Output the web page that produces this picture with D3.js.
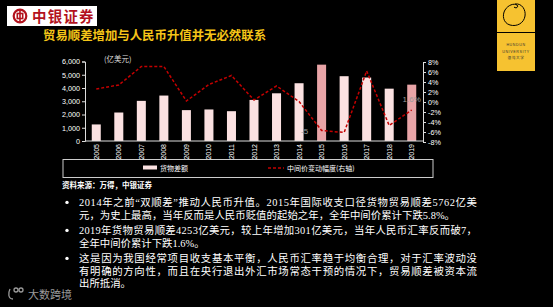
<!DOCTYPE html>
<html><head><meta charset="utf-8">
<script src="https://cdn.jsdelivr.net/npm/d3@7/dist/d3.min.js"></script>
<style>html,body{margin:0;padding:0;background:#000;overflow:hidden}svg{display:block}</style>
</head><body>
<script>
const years = ['2005','2006','2007','2008','2009','2010','2011','2012','2013','2014','2015','2016','2017','2018','2019'];
const tradeSurplus = [1250, 2150, 3030, 3430, 2330, 2380, 2250, 3100, 3600, 4360, 5762, 4890, 4790, 3950, 4253];
const fixingChange = [2.6, 3.4, 7.1, 7.1, 0.2, 3.5, 5.3, 0.4, 3.2, 0.1, -5.7, -6.1, 6.2, -4.7, -1.6];
const highlightYears = ['2015','2019'];
const leftTicks = [0, 1000, 2000, 3000, 4000, 5000, 6000];
const rightTicks = [-8, -6, -4, -2, 0, 2, 4, 6, 8];
const pointLabels = [{year:'2014', text:'-5'}, {year:'2019', text:'1.6%'}];
const seriesNames = ['货物差额', '中间价变动幅度(右轴)'];
const titleText = '贸易顺差增加与人民币升值并无必然联系';
const sourceText = '资料来源：万得，中银证券';
const bullets = [
  ['2014年之前“双顺差”推动人民币升值。2015年国际收支口径货物贸易顺差5762亿美',
   '元，为史上最高，当年反而是人民币贬值的起始之年，全年中间价累计下跌5.8%。'],
  ['2019年货物贸易顺差4253亿美元，较上年增加301亿美元，当年人民币汇率反而破7，',
   '全年中间价累计下跌1.6%。'],
  ['这是因为我国经常项目收支基本平衡，人民币汇率趋于均衡合理，对于汇率波动没',
   '有明确的方向性，而且在央行退出外汇市场常态干预的情况下，贸易顺差被资本流',
   '出所抵消。']
];

const W = 553, H = 307;
const svg = d3.select('body').append('svg').attr('width', W).attr('height', H);
svg.append('rect').attr('width', W).attr('height', H).attr('fill', '#000');

// ---- Top-left logo
const lg = svg.append('g');
lg.append('rect').attr('x', 7).attr('y', 6).attr('width', 90).attr('height', 20).attr('fill', '#fff');
lg.append('circle').attr('cx', 20).attr('cy', 16).attr('r', 6.3).attr('fill', 'none').attr('stroke', '#b3121d').attr('stroke-width', 2.2);
lg.append('rect').attr('x', 17.3).attr('y', 13.5).attr('width', 5.4).attr('height', 5).attr('fill', 'none').attr('stroke', '#b3121d').attr('stroke-width', 1.6);
lg.append('line').attr('x1', 20).attr('x2', 20).attr('y1', 9).attr('y2', 23).attr('stroke', '#b3121d').attr('stroke-width', 1.6);
lg.append('text').attr('x', 32).attr('y', 21.5).text('中银证券')
  .attr('font-family', '"Noto Sans CJK SC"').attr('font-size', 14.5).attr('font-weight', 'bold')
  .attr('letter-spacing', 1.2).attr('fill', '#b3121d');

// ---- Top-right logo
const rg = svg.append('g');
rg.append('rect').attr('x', 497).attr('y', 0).attr('width', 38).attr('height', 71).attr('fill', '#f6c230');
rg.append('line').attr('x1', 497).attr('x2', 535).attr('y1', 32.5).attr('y2', 32.5).attr('stroke', '#000').attr('stroke-width', 1);
rg.append('path').attr('d', 'M515,4 C522,3 526,10 525,16 C524,23 517,27 510,25 C503,23 502,15 505,10 C508,5 514,3 517,5 C519,7 516,9 514,7')
  .attr('fill', 'none').attr('stroke', '#000').attr('stroke-width', 1);
[['HUNDUN', 45.5], ['UNIVERSITY', 52.5], ['混沌大学', 59]].forEach(([t, y]) => {
  rg.append('text').attr('x', 516).attr('y', y).attr('text-anchor', 'middle').text(t)
    .attr('font-family', '"Liberation Sans","Noto Sans CJK SC"').attr('font-size', 3.6)
    .attr('letter-spacing', 0.6).attr('fill', '#333');
});

// ---- Title
svg.append('text').attr('x', 43).attr('y', 40).text(titleText)
  .attr('font-family', '"Noto Sans CJK SC"').attr('font-size', 12.4).attr('font-weight', 'bold')
  .attr('fill', '#f5c518');

// ---- Chart
const plotL = 85, plotR = 423, plotT = 61.5, plotB = 141;
const x = d3.scaleBand().domain(years).range([plotL, plotR]).paddingInner(0.6).paddingOuter(0.3);
const yL = d3.scaleLinear().domain([0, 6000]).range([plotB, plotT]);
const yR = d3.scaleLinear().domain([-8, 8]).range([142, 62]);

const axFont = '"Liberation Sans", Arial, sans-serif';

svg.selectAll('rect.bar').data(years).enter().append('rect')
  .attr('class', 'bar')
  .attr('x', d => x(d))
  .attr('width', x.bandwidth())
  .attr('y', (d, i) => yL(tradeSurplus[i]))
  .attr('height', (d, i) => yL(0) - yL(tradeSurplus[i]))
  .attr('fill', d => highlightYears.includes(d) ? '#e8a4a7' : '#fbe1e1');

// point labels (grey)
pointLabels.forEach(p => {
  const i = years.indexOf(p.year);
  svg.append('text')
    .attr('x', x(p.year) + x.bandwidth() / 2 + (p.year === '2014' ? 2 : 0))
    .attr('y', p.year === '2014' ? 134 : 102)
    .attr('text-anchor', p.year === '2014' ? 'start' : 'middle')
    .attr('font-family', axFont).attr('font-size', 8).attr('fill', '#9a9a9a').text(p.text);
});

const line = d3.line().x((d, i) => x(years[i]) + x.bandwidth() / 2).y(d => yR(d));
svg.append('path').datum(fixingChange).attr('d', line)
  .attr('fill', 'none').attr('stroke', '#c40000').attr('stroke-width', 1.5).attr('stroke-dasharray', '3,2');

// left axis
const gL = svg.append('g').attr('transform', `translate(${plotL},0)`)
  .call(d3.axisLeft(yL).tickValues(leftTicks).tickFormat(d3.format(',')).tickSize(3).tickPadding(2));
gL.selectAll('text').attr('font-family', axFont).attr('font-size', 7.2).attr('fill', '#fff');
gL.selectAll('line,path').attr('stroke', '#ddd');

// right axis
const gR = svg.append('g').attr('transform', `translate(${plotR},0)`)
  .call(d3.axisRight(yR).tickValues(rightTicks).tickFormat(d => d + '%').tickSize(3).tickPadding(2));
gR.selectAll('text').attr('font-family', axFont).attr('font-size', 7.2).attr('fill', '#fff');
gR.selectAll('line,path').attr('stroke', '#ddd');

// baseline
svg.append('line').attr('x1', plotL).attr('x2', plotR).attr('y1', plotB).attr('y2', plotB).attr('stroke', '#ddd').attr('stroke-width', 1);

// x labels (rotated)
svg.selectAll('text.yr').data(years).enter().append('text')
  .attr('class', 'yr')
  .attr('transform', d => `translate(${x(d) + x.bandwidth() / 2 + 2.5},${plotB + 3}) rotate(-90)`)
  .attr('text-anchor', 'end')
  .attr('font-family', axFont).attr('font-size', 7).attr('fill', '#fff').text(d => d);

// unit label
svg.append('text').attr('x', 104).attr('y', 62).text('(亿美元)')
  .attr('font-family', '"Noto Sans CJK SC"').attr('font-size', 7.5).attr('fill', '#ddd');

// legend
svg.append('rect').attr('x', 63).attr('y', 159.5).attr('width', 370).attr('height', 18)
  .attr('fill', 'none').attr('stroke', '#ccc').attr('stroke-width', 1);
svg.append('rect').attr('x', 143).attr('y', 165.5).attr('width', 14).attr('height', 4).attr('fill', '#fbe1e1');
svg.append('text').attr('x', 160).attr('y', 170.5).text(seriesNames[0])
  .attr('font-family', '"Noto Sans CJK SC"').attr('font-size', 7).attr('fill', '#fff');
svg.append('line').attr('x1', 268).attr('x2', 284).attr('y1', 168).attr('y2', 168)
  .attr('stroke', '#c40000').attr('stroke-width', 1.5).attr('stroke-dasharray', '3,2');
svg.append('text').attr('x', 287).attr('y', 170.5).text(seriesNames[1])
  .attr('font-family', '"Noto Sans CJK SC"').attr('font-size', 7).attr('fill', '#fff');

// source
svg.append('text').attr('x', 62).attr('y', 188).text(sourceText)
  .attr('font-family', '"Noto Sans CJK SC"').attr('font-size', 7.5).attr('font-weight', 'bold').attr('fill', '#fff');

// bullets
const lineYs = [[206, 218.5], [234, 246.5], [262, 275, 287]];
const fullLen = 398;
bullets.forEach((b, bi) => {
  svg.append('circle').attr('cx', 67).attr('cy', lineYs[bi][0] - 3.6).attr('r', 1.7).attr('fill', '#fff');
  b.forEach((t, li) => {
    const txt = svg.append('text').attr('x', 79).attr('y', lineYs[bi][li]).text(t)
      .attr('font-family', '"Liberation Serif","Noto Sans CJK SC"').attr('font-size', 10.4).attr('fill', '#fff');
    const full = (bi === 0 && li === 0) || (bi === 1 && li === 0) || (bi === 2 && li < 2);
    if (full) txt.attr('textLength', fullLen).attr('lengthAdjust', 'spacing');
    if (bi === 0 && li === 1) txt.attr('textLength', 376).attr('lengthAdjust', 'spacing');
  });
});

// watermark
const wm = svg.append('g').attr('fill', 'none').attr('stroke', '#9a9a9a').attr('stroke-width', 1.3);
wm.append('path').attr('d', 'M10,289 C8,293 8,299 13,299');
wm.append('circle').attr('cx', 16).attr('cy', 290).attr('r', 2);
wm.append('circle').attr('cx', 21).attr('cy', 290).attr('r', 2);
svg.append('text').attr('x', 28).attr('y', 299).text('大数跨境')
  .attr('font-family', '"Noto Sans CJK SC"').attr('font-size', 11).attr('fill', '#9a9a9a');
</script>
</body></html>
